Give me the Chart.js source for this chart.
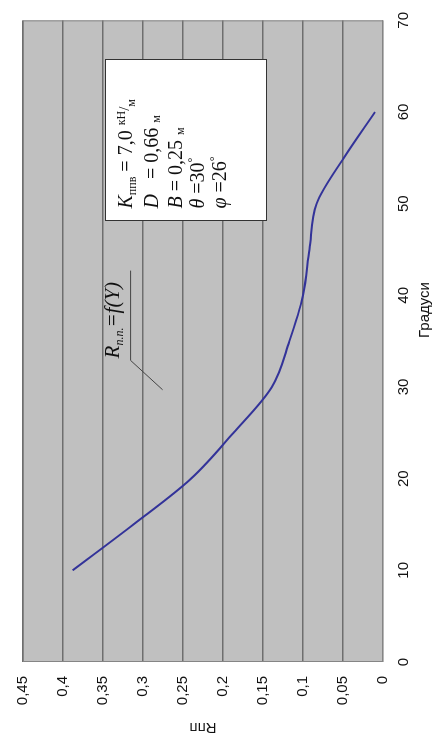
<!DOCTYPE html>
<html>
<head>
<meta charset="utf-8">
<script src="https://cdn.jsdelivr.net/npm/chart.js@4/dist/chart.umd.min.js"></script>
<style>
  html, body { margin: 0; padding: 0; background: #fff; overflow: hidden; }
  /* the chart is drawn lying on its side, like the scanned original */
  #wrap { position: absolute; left: 0; top: 0; width: 742px; height: 445px;
          transform-origin: 0 0; transform: translateY(742px) rotate(-90deg); }
</style>
</head>
<body>
<div id="wrap"><canvas id="myChart" width="742" height="445"></canvas></div>
<script>
 /*Datos*/
 const degrees = [10, 15, 20, 25, 30, 35, 40, 45, 50, 55, 60];
 const rValues = [0.388, 0.312, 0.240, 0.187, 0.139, 0.117, 0.100, 0.092, 0.083, 0.049, 0.010];
 const xTicks = [0, 10, 20, 30, 40, 50, 60, 70];
 const yTicks = [0, 0.05, 0.1, 0.15, 0.2, 0.25, 0.3, 0.35, 0.4, 0.45];
 const yTickLabels = ['0', '0,05', '0,1', '0,15', '0,2', '0,25', '0,3', '0,35', '0,4', '0,45'];
 const xTitle = 'Градуси';
 const yTitle = 'Rпп';

 const sans = '"Liberation Sans", Arial, sans-serif';
 const serif = '"Liberation Serif", "Times New Roman", serif';

 function drawRich(ctx, x, y, parts) {
     parts.forEach(p => {
         ctx.font = p.font;
         ctx.fillText(p.t, x, y + (p.dy || 0));
         x += ctx.measureText(p.t).width;
     });
 }

 // gray plot area + frame
 const plotBg = {
     id: 'plotBg',
     beforeDraw(chart) {
         const { ctx, chartArea: a } = chart;
         ctx.save();
         ctx.fillStyle = '#c0c0c0';
         ctx.fillRect(a.left, a.top, a.right - a.left, a.bottom - a.top);
         ctx.restore();
     },
     beforeDatasetsDraw(chart) {
         const { ctx, chartArea: a } = chart;
         ctx.save();
         ctx.strokeStyle = '#858585';
         ctx.lineWidth = 1;
         ctx.strokeRect(a.left + 0.5, a.top + 0.5, a.right - a.left - 1, a.bottom - a.top - 1);
         ctx.restore();
     }
 };

 // text box, curve label and axis titles
 const notes = {
     id: 'notes',
     afterDraw(chart) {
         const ctx = chart.ctx, sx = chart.scales.x, sy = chart.scales.y;
         ctx.save();
         ctx.fillStyle = '#111';
         ctx.textBaseline = 'alphabetic';
         ctx.textAlign = 'left';

         const bx = Math.round(sx.getPixelForValue(48.1)) + 0.5;
         const by = Math.round(sy.getPixelForValue(0.348)) + 0.5;
         ctx.fillStyle = '#fff';
         ctx.fillRect(bx, by, 161, 161);
         ctx.strokeStyle = '#333';
         ctx.lineWidth = 1;
         ctx.strokeRect(bx, by, 161, 161);
         ctx.fillStyle = '#111';
         const it = 'italic 20px ' + serif, rg = '20px ' + serif, sm = '12px ' + serif;
         const tx = bx + 12;
         drawRich(ctx, tx, by + 26, [{ t: 'K', font: it }, { t: 'ппв', font: sm, dy: 4 },
             { t: ' = 7,0 ', font: rg }, { t: 'кН', font: sm, dy: -7 }, { t: '/', font: '15px ' + serif, dy: -3 },
             { t: 'м', font: sm, dy: 3 }]);
         drawRich(ctx, tx, by + 52, [{ t: 'D', font: it }, { t: '   = 0,66 ', font: rg }, { t: 'м', font: sm, dy: 2 }]);
         drawRich(ctx, tx, by + 76, [{ t: 'B', font: it }, { t: ' = 0,25 ', font: rg }, { t: 'м', font: sm, dy: 2 }]);
         drawRich(ctx, tx, by + 98, [{ t: 'θ', font: it }, { t: ' =30', font: rg }, { t: '°', font: sm, dy: -8 }]);
         drawRich(ctx, tx, by + 120, [{ t: 'φ', font: it }, { t: ' =26', font: rg }, { t: '°', font: sm, dy: -8 }]);

         // R = f(Y) label with leader
         const ux1 = sx.getPixelForValue(32.9), ux2 = sx.getPixelForValue(42.7), uy = sy.getPixelForValue(0.3155);
         ctx.strokeStyle = '#444';
         ctx.beginPath();
         ctx.moveTo(ux2, uy);
         ctx.lineTo(ux1, uy);
         ctx.lineTo(sx.getPixelForValue(29.7), sy.getPixelForValue(0.2755));
         ctx.stroke();
         drawRich(ctx, ux1 + 2, uy - 12, [{ t: 'R', font: 'italic 21px ' + serif }, { t: 'п.п.', font: 'italic 12px ' + serif, dy: 4 },
             { t: '=f(Y)', font: 'italic 21px ' + serif }]);

         // axis titles
         ctx.font = '15px ' + sans;
         ctx.textAlign = 'center';
         ctx.textBaseline = 'middle';
         ctx.fillText(xTitle, sx.getPixelForValue(38.4), 425);
         ctx.translate(15, (sy.top + sy.bottom) / 2);
         ctx.rotate(-Math.PI / 2);
         ctx.fillText(yTitle, 0, 0);
         ctx.restore();
     }
 };

 const ctx = document.getElementById('myChart').getContext('2d');
 const myChart = new Chart(ctx, {
     type: 'line',
     data: {
         datasets: [{
             label: 'R = f(Y)',
             data: degrees.map((d, i) => ({ x: d, y: rValues[i] })),
             borderColor: '#333399',
             borderWidth: 2,
             pointRadius: 0,
             cubicInterpolationMode: 'monotone',
             fill: false
         }]
     },
     options: {
         responsive: false,
         animation: false,
         layout: { padding: { left: 0, top: 22, right: 14, bottom: 0 } },
         plugins: {
             legend: { display: false },
             tooltip: { enabled: false }
         },
         scales: {
             x: {
                 type: 'linear',
                 min: 0,
                 max: 70,
                 afterFit: s => { s.height = 62; },
                 afterBuildTicks: s => { s.ticks = xTicks.map(v => ({ value: v })); },
                 grid: { display: false, drawTicks: false },
                 border: { display: false },
                 ticks: { padding: 12, maxRotation: 0, color: '#111', font: { family: sans, size: 15 },
                          callback: v => String(v) }
             },
             y: {
                 type: 'linear',
                 min: 0,
                 max: 0.45,
                 afterFit: s => { s.width = 80; },
                 afterBuildTicks: s => { s.ticks = yTicks.map(v => ({ value: v })); },
                 grid: { color: '#6e6e6e', lineWidth: 1.5, drawTicks: false },
                 border: { display: false },
                 ticks: { padding: 14, color: '#111', font: { family: sans, size: 15 },
                          callback: (v, i) => yTickLabels[i] }
             }
         }
     },
     plugins: [plotBg, notes]
 });
</script>
</body>
</html>
